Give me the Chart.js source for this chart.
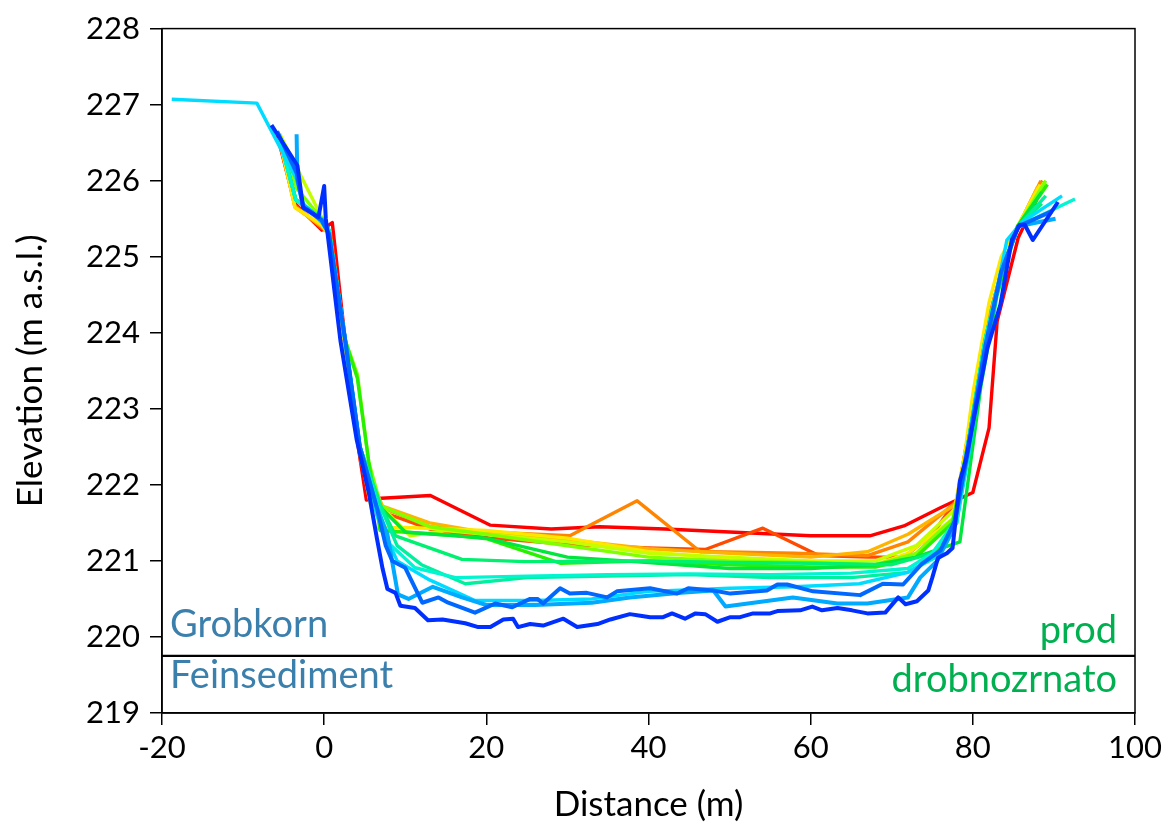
<!DOCTYPE html>
<html lang="en">
<head>
<meta charset="UTF-8">
<title>Cross-section profiles</title>
<script src="https://cdn.jsdelivr.net/npm/chart.js"></script>
<style>
  html, body { margin: 0; padding: 0; background: #fff; }
  #wrap { width: 1167px; height: 828px; }
</style>
</head>
<body>
<div id="wrap"><canvas id="profileChart"></canvas></div>
<script>
// Distance (m) and elevation (m a.s.l.) of each surveyed cross-section, red = oldest ... blue = newest
const xRed = [-5.8, -3.6, -0.3, 1.0, 2.9, 4.2, 5.2, 6.5, 13.1, 20.5, 28, 34, 42, 50, 60, 67.3, 71.5, 76, 80, 82, 83, 85.6, 86.5, 88.8];
const yRed = [226.6, 225.7, 225.35, 225.45, 223.6, 222.5, 221.8, 221.82, 221.86, 221.47, 221.42, 221.45, 221.42, 221.38, 221.33, 221.33, 221.46, 221.7, 221.9, 222.75, 224.15, 225.25, 225.45, 225.95];

const xOrangeRed = [-5.7, -3.6, -0.4, 0.8, 2.7, 4.5, 7.0, 13, 20.5, 30, 40, 47, 54.1, 61, 67, 71.5, 75, 78, 79.5, 81.5, 83.5, 85.6, 88.6];
const yOrangeRed = [226.6, 225.68, 225.38, 225.3, 223.8, 222.3, 221.65, 221.42, 221.3, 221.22, 221.17, 221.15, 221.43, 221.07, 221.05, 221.05, 221.35, 221.8, 222.7, 224.0, 224.8, 225.4, 226.0];

const xOrange = [-5.7, -3.6, -0.3, 0.7, 2.6, 4.4, 7.2, 13, 20, 30.3, 38.6, 46.4, 48, 58, 67, 72, 78, 79.5, 81.5, 83.5, 85.6, 88.4];
const yOrange = [226.6, 225.66, 225.4, 225.3, 223.8, 222.4, 221.7, 221.45, 221.38, 221.33, 221.79, 221.12, 221.12, 221.1, 221.07, 221.25, 221.78, 222.7, 224.0, 224.8, 225.4, 226.0];

const xAmber = [-5.6, -3.6, -0.3, 0.6, 2.6, 4.4, 7.2, 13, 20, 30, 40, 50, 60, 67, 72, 78, 79.5, 81.5, 83.5, 85.6, 88.0];
const yAmber = [226.6, 225.65, 225.4, 225.3, 223.8, 222.4, 221.72, 221.5, 221.37, 221.28, 221.16, 221.1, 221.05, 221.12, 221.35, 221.75, 222.6, 223.9, 224.8, 225.4, 225.92];

const xYellow = [-5.6, -3.6, -0.3, 0.5, 2.5, 4.3, 6.3, 10, 20, 30, 40, 47.5, 60, 68, 72, 77.5, 79, 80, 82, 83.5, 85.5, 88.3];
const yYellow = [226.6, 225.65, 225.42, 225.3, 223.9, 222.5, 221.43, 221.44, 221.4, 221.3, 221.12, 221.05, 220.98, 220.95, 221.1, 221.55, 222.4, 223.2, 224.4, 225.0, 225.4, 225.95];

const xLime = [-5.5, -0.3, 0.6, 2.6, 4.4, 7.0, 10.6, 15, 20, 30, 40, 50, 60, 68, 73, 78, 79.5, 81.5, 83.5, 85.6, 88.8];
const yLime = [226.62, 225.52, 225.3, 223.85, 222.45, 221.72, 221.33, 221.4, 221.35, 221.25, 221.1, 221.05, 221.0, 221.0, 221.2, 221.7, 222.6, 223.9, 224.8, 225.4, 225.98];

const xChartreuse = [-5.5, -3.4, -0.3, 0.6, 2.6, 4.1, 5.5, 7.0, 13, 20, 30, 40, 50, 60, 68, 73, 78, 79.5, 81.5, 83.5, 85.6, 89.0];
const yChartreuse = [226.6, 225.9, 225.5, 225.35, 223.9, 223.45, 222.3, 221.72, 221.45, 221.35, 221.2, 221.05, 221.0, 220.98, 220.95, 221.1, 221.6, 222.6, 223.9, 224.8, 225.4, 226.0];

const xGreen = [-5.6, -3.5, -0.3, 0.6, 2.6, 4.1, 5.5, 6.9, 16.4, 20.1, 29.1, 40.2, 50, 60, 68, 73, 77.5, 79.5, 81.5, 83.5, 85.6, 89.2];
const yGreen = [226.6, 225.75, 225.5, 225.35, 223.9, 223.4, 222.3, 221.4, 221.33, 221.29, 220.97, 221.0, 220.95, 220.92, 220.92, 221.05, 221.5, 222.6, 223.9, 224.8, 225.4, 225.95];

const xEmerald = [-5.6, -3.5, -0.3, 0.6, 2.6, 4.4, 7.0, 10, 20, 30, 40, 50, 60, 68, 73, 78.4, 81, 83, 85.5, 88.5];
const yEmerald = [226.6, 225.75, 225.5, 225.35, 223.9, 222.5, 221.7, 221.38, 221.3, 221.05, 220.98, 220.9, 220.9, 220.95, 221.05, 221.25, 223.3, 224.5, 225.4, 225.85];

const xSpring = [-5.6, -3.5, -0.3, 0.6, 2.6, 4.4, 7.0, 8.8, 17, 24.8, 40, 50, 60, 70, 75, 78, 79.5, 81.5, 83.5, 85.6, 88.5];
const ySpring = [226.6, 225.75, 225.5, 225.35, 223.9, 222.5, 221.72, 221.33, 221.02, 220.99, 221.0, 220.98, 220.97, 220.95, 221.1, 221.5, 222.6, 223.9, 224.8, 225.4, 225.7];

const xMint = [-5.6, -3.5, -0.3, 0.6, 2.6, 4.4, 6.8, 9, 12, 17.4, 25, 35, 45, 55, 65, 72, 75.5, 78, 79.5, 81.5, 83.5, 85.6, 89];
const yMint = [226.6, 225.75, 225.5, 225.35, 223.9, 222.5, 221.75, 221.2, 220.95, 220.7, 220.78, 220.8, 220.82, 220.78, 220.78, 220.85, 221.05, 221.5, 222.5, 223.9, 224.8, 225.4, 225.8];

const xAqua = [-5.7, -3.5, -0.3, 0.6, 2.6, 4.4, 6.5, 8.1, 11.2, 16.2, 25, 35, 45, 55, 65, 72, 75, 78, 79.5, 81.5, 83.5, 85.6, 92.6];
const yAqua = [226.62, 225.75, 225.5, 225.35, 223.9, 222.5, 221.75, 221.22, 220.91, 220.78, 220.8, 220.82, 220.83, 220.82, 220.84, 220.9, 221.1, 221.55, 222.6, 223.9, 224.8, 225.4, 225.76];

const xCyan = [-18.8, -8.3, -3.3, -2.6, -0.3, 0.6, 2.6, 4.4, 6.5, 9, 13, 18.6, 26, 33, 40, 50, 58, 66, 72, 76, 78, 79.5, 81.5, 84.2, 86, 91];
const yCyan = [227.07, 227.02, 226.0, 225.7, 225.45, 225.3, 223.9, 222.5, 221.6, 221.0, 220.75, 220.48, 220.48, 220.5, 220.6, 220.64, 220.66, 220.7, 220.85, 221.1, 221.5, 222.4, 223.8, 225.22, 225.45, 225.8];

const xSky = [-3.4, -3.3, -2.6, -0.3, 0.6, 2.6, 4.4, 6.5, 7.8, 9.1, 10.4, 13.4, 17, 20, 26, 33, 37.7, 44, 48, 49.5, 57.8, 63.3, 67, 72, 73.5, 75.6, 77.5, 79.2, 81.5, 83.5, 85.6, 90.2];
const ySky = [226.61, 226.0, 225.68, 225.48, 225.3, 223.9, 222.5, 221.7, 221.35, 220.56, 220.5, 220.66, 220.52, 220.42, 220.42, 220.45, 220.52, 220.58, 220.61, 220.4, 220.52, 220.44, 220.44, 220.52, 220.78, 221.0, 221.4, 222.4, 223.8, 224.8, 225.4, 225.5];

const xAzure = [-5.8, -3.4, -2.6, -0.3, 0.6, 2.6, 4.4, 6.5, 7.6, 8.4, 10.0, 12.1, 14.1, 15.3, 18.6, 21.1, 23.2, 25.4, 26.3, 27, 29.1, 30.3, 32.4, 34.9, 36.1, 40.2, 43.5, 44.9, 48, 50.1, 54.6, 55.9, 57.1, 60.3, 66.1, 68.9, 71.4, 73.7, 76, 77.8, 79.5, 81.5, 83.5, 85.6, 89.8];
const yAzure = [226.65, 226.1, 225.65, 225.48, 225.3, 223.9, 222.5, 221.7, 221.2, 221.0, 220.91, 220.45, 220.52, 220.45, 220.32, 220.44, 220.39, 220.5, 220.5, 220.44, 220.64, 220.57, 220.58, 220.52, 220.6, 220.64, 220.57, 220.64, 220.61, 220.57, 220.61, 220.69, 220.69, 220.6, 220.55, 220.7, 220.69, 220.96, 221.14, 221.53, 222.5, 223.8, 224.8, 225.4, 225.6];

const xBlue = [-6.5, -3.3, -2.6, -0.7, 0, 0.2, 2.0, 4.0, 5.5, 6.5, 7.2, 7.8, 8.8, 9.4, 11.2, 12.8, 14.6, 17.4, 19, 20.5, 22.1, 23.3, 23.9, 25.4, 27, 29.5, 31.2, 33.7, 35.3, 37.7, 39, 40.2, 41.8, 42.9, 44.5, 45.8, 47, 48.5, 50.1, 51.3, 52.9, 55, 55.9, 58.7, 60.2, 61.4, 63.3, 65.1, 67, 69.2, 70.8, 71.7, 73.1, 74.5, 75, 75.7, 76.8, 77.5, 78.4, 79.1, 81.8, 83.4, 84.8, 85.8, 86.4, 87.4, 90.5];
const yBlue = [226.73, 226.2, 225.65, 225.52, 225.93, 225.5, 223.9, 222.6, 221.9, 221.3, 220.9, 220.63, 220.58, 220.41, 220.38, 220.22, 220.23, 220.18, 220.13, 220.13, 220.23, 220.24, 220.13, 220.17, 220.15, 220.24, 220.13, 220.17, 220.23, 220.3, 220.28, 220.26, 220.26, 220.31, 220.24, 220.31, 220.3, 220.2, 220.26, 220.26, 220.31, 220.31, 220.34, 220.35, 220.4, 220.35, 220.38, 220.35, 220.31, 220.32, 220.52, 220.43, 220.47, 220.61, 220.78, 221.04, 221.1, 221.17, 222.05, 222.31, 223.8, 224.37, 225.22, 225.42, 225.42, 225.22, 225.72];

// boundary between coarse and fine sediment
const boundaryX = [-20, 100];
const boundaryY = [219.75, 219.75];

const profiles = [
  { color: '#ff0000', x: xRed, y: yRed },
  { color: '#ff4a00', x: xOrangeRed, y: yOrangeRed },
  { color: '#ff8400', x: xOrange, y: yOrange },
  { color: '#ffb400', x: xAmber, y: yAmber },
  { color: '#ffe800', x: xYellow, y: yYellow },
  { color: '#c4ff00', x: xLime, y: yLime },
  { color: '#80ff00', x: xChartreuse, y: yChartreuse },
  { color: '#28f000', x: xGreen, y: yGreen },
  { color: '#00e63c', x: xEmerald, y: yEmerald },
  { color: '#00f070', x: xSpring, y: ySpring },
  { color: '#00f0a0', x: xMint, y: yMint },
  { color: '#00f5d0', x: xAqua, y: yAqua },
  { color: '#00dcff', x: xCyan, y: yCyan },
  { color: '#00aaff', x: xSky, y: ySky },
  { color: '#0068ff', x: xAzure, y: yAzure },
  { color: '#0030ff', x: xBlue, y: yBlue }
];

const datasets = profiles.map((p, i) => ({
  data: p.x.map((v, j) => ({ x: v, y: p.y[j] })),
  borderColor: p.color,
  borderWidth: i >= 13 ? 4 : 3.4,
  borderJoinStyle: 'round',
  pointRadius: 0,
  tension: 0,
  order: profiles.length - i
}));

datasets.push({
  data: boundaryX.map((v, j) => ({ x: v, y: boundaryY[j] })),
  borderColor: '#000',
  borderWidth: 2.2,
  pointRadius: 0,
  order: 0
});

const frameAndLabels = {
  id: 'frameAndLabels',
  afterDatasetsDraw(chart) {
    const { ctx, chartArea: a } = chart;
    ctx.save();
    ctx.strokeStyle = '#000';
    ctx.lineWidth = 1.5;
    ctx.strokeRect(a.left, a.top, a.right - a.left, a.bottom - a.top);

    ctx.font = '38px Lato';
    ctx.textBaseline = 'alphabetic';
    ctx.fillStyle = '#3b7fac';
    ctx.textAlign = 'left';
    ctx.fillText('Grobkorn', a.left + 8, 637);
    ctx.fillText('Feinsediment', a.left + 8, 688);

    ctx.fillStyle = '#00b050';
    ctx.textAlign = 'right';
    ctx.fillText('prod', a.right - 18, 643);
    ctx.fillText('drobnozrnato', a.right - 18, 692);
    ctx.restore();
  }
};

const tickFont = { family: 'Lato', size: 31 };
const titleFont = { family: 'Lato', size: 35 };

new Chart(document.getElementById('profileChart'), {
  type: 'line',
  data: { datasets },
  options: {
    responsive: true,
    maintainAspectRatio: false,
    animation: false,
    layout: { padding: { left: 8, right: 32, top: 26, bottom: 0 } },
    plugins: { legend: { display: false }, tooltip: { enabled: false } },
    scales: {
      x: {
        type: 'linear',
        min: -20,
        max: 100,
        ticks: { stepSize: 20, color: '#000', font: tickFont, padding: 4 },
        grid: { drawOnChartArea: false, drawTicks: true, tickLength: 12, color: '#000', lineWidth: 1.5 },
        border: { display: true, color: '#000', width: 1.5 },
        title: { display: true, text: 'Distance (m)', color: '#000', font: titleFont, padding: { top: 2, bottom: 2 } },
        afterFit(scale) { scale.height = 115; }
      },
      y: {
        type: 'linear',
        min: 219,
        max: 228,
        ticks: { stepSize: 1, color: '#000', font: tickFont, padding: 10 },
        grid: { drawOnChartArea: false, drawTicks: true, tickLength: 12, color: '#000', lineWidth: 1.5 },
        border: { display: true, color: '#000', width: 1.5 },
        title: { display: true, text: 'Elevation (m a.s.l.)', color: '#000', font: titleFont, padding: { top: 2, bottom: 2 } },
        afterFit(scale) { scale.width = 154; }
      }
    }
  },
  plugins: [frameAndLabels]
});
</script>
</body>
</html>
